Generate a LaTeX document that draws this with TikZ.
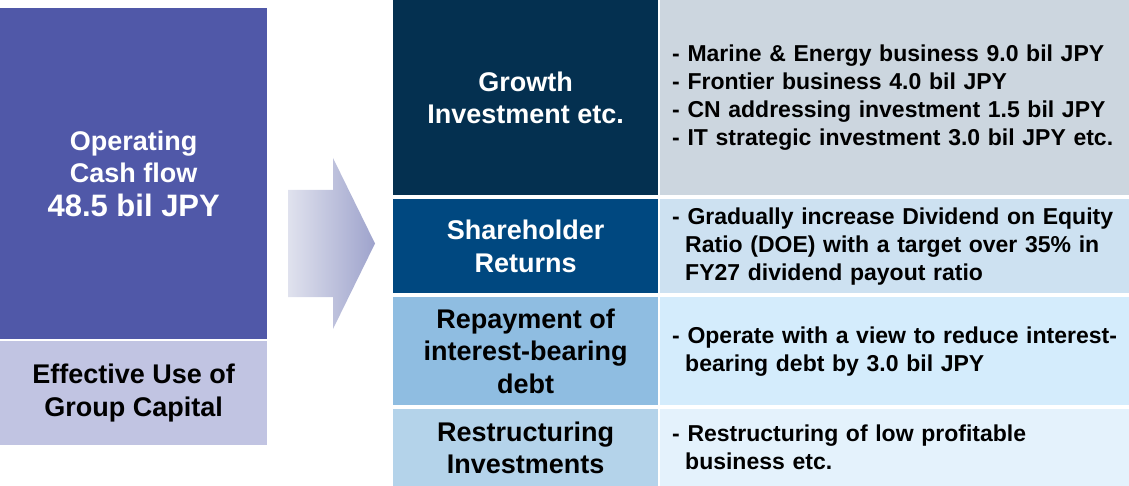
\documentclass[tikz,border=0pt]{standalone}
\usepackage{fontspec}
\setmainfont{Liberation Sans}
\usepackage{tikz}
\usetikzlibrary{positioning}
\definecolor{opblue}{HTML}{5058A8}
\definecolor{capblue}{HTML}{C1C4E2}
\definecolor{arrowlight}{HTML}{E0E2EE}
\definecolor{arrowdark}{HTML}{9EA3CC}
\definecolor{navyone}{HTML}{043050}
\definecolor{navytwo}{HTML}{004880}
\definecolor{skythree}{HTML}{8FBDE1}
\definecolor{skyfour}{HTML}{B4D3EA}
\definecolor{paleone}{HTML}{CCD6DF}
\definecolor{paletwo}{HTML}{CDE1F1}
\definecolor{palethree}{HTML}{D4ECFC}
\definecolor{palefour}{HTML}{E4F2FC}

\begin{document}
\begin{tikzpicture}[x=1pt, y=-1pt,
  cell/.style={anchor=north west, inner sep=0pt, align=center,
               font=\bfseries\fontsize{27}{32.5}\selectfont},
  note/.style={anchor=north west, inner sep=0pt, text width=469pt, align=left,
               font=\bfseries\fontsize{23}{28}\selectfont,
               execute at begin node={\leftskip=12pt\hyphenpenalty=10000 }}]
  \useasboundingbox (0,0) rectangle (1129,486);

  % source of cash
  \node[cell, fill=opblue, text=white, minimum width=267pt, minimum height=331pt]
    (opcf) at (0,8) {Operating\\Cash flow\\[1pt]{\fontsize{31}{35}\selectfont 48.5 bil JPY}};
  \node[cell, fill=capblue, minimum width=267pt, minimum height=104pt]
    (capital) at (0,341) {Effective Use of\\Group Capital};

  % big arrow
  \shade[left color=arrowlight, right color=arrowdark]
    (288,190) -- (333,190) -- (333,158) -- (375,243.5) -- (333,329)
    -- (333,297) -- (288,297) -- cycle;

  % uses of cash
  \node[cell, fill=navyone, text=white, minimum width=265pt, minimum height=195pt]
    (growth) at (393,0) {Growth\\Investment etc.};
  \node[note, fill=paleone, minimum height=195pt] (growthnote) at (660,0)
    {- Marine \& Energy business 9.0 bil JPY\\
     - Frontier business 4.0 bil JPY\\
     - CN addressing investment 1.5 bil JPY\\
     - IT strategic investment 3.0 bil JPY etc.};

  \node[cell, fill=navytwo, text=white, minimum width=265pt, minimum height=94pt]
    (returns) at (393,199) {Shareholder\\Returns};
  \node[note, fill=paletwo, minimum height=94pt] (returnsnote) at (660,199)
    {- Gradually increase Dividend on Equity\\
     \hspace*{13pt}Ratio (DOE) with a target over 35\% in\\
     \hspace*{13pt}FY27 dividend payout ratio};

  \node[cell, fill=skythree, minimum width=265pt, minimum height=108pt]
    (repay) at (393,297) {Repayment of\\interest-bearing\\debt};
  \node[note, fill=palethree, minimum height=108pt] (repaynote) at (660,297)
    {- Operate with a view to reduce interest-\\
     \hspace*{13pt}bearing debt by 3.0 bil JPY};

  \node[cell, fill=skyfour, minimum width=265pt, minimum height=77pt]
    (restruct) at (393,409) {Restructuring\\Investments};
  \node[note, fill=palefour, minimum height=77pt] (restructnote) at (660,409)
    {- Restructuring of low profitable\\
     \hspace*{13pt}business etc.};
\end{tikzpicture}
\end{document}
